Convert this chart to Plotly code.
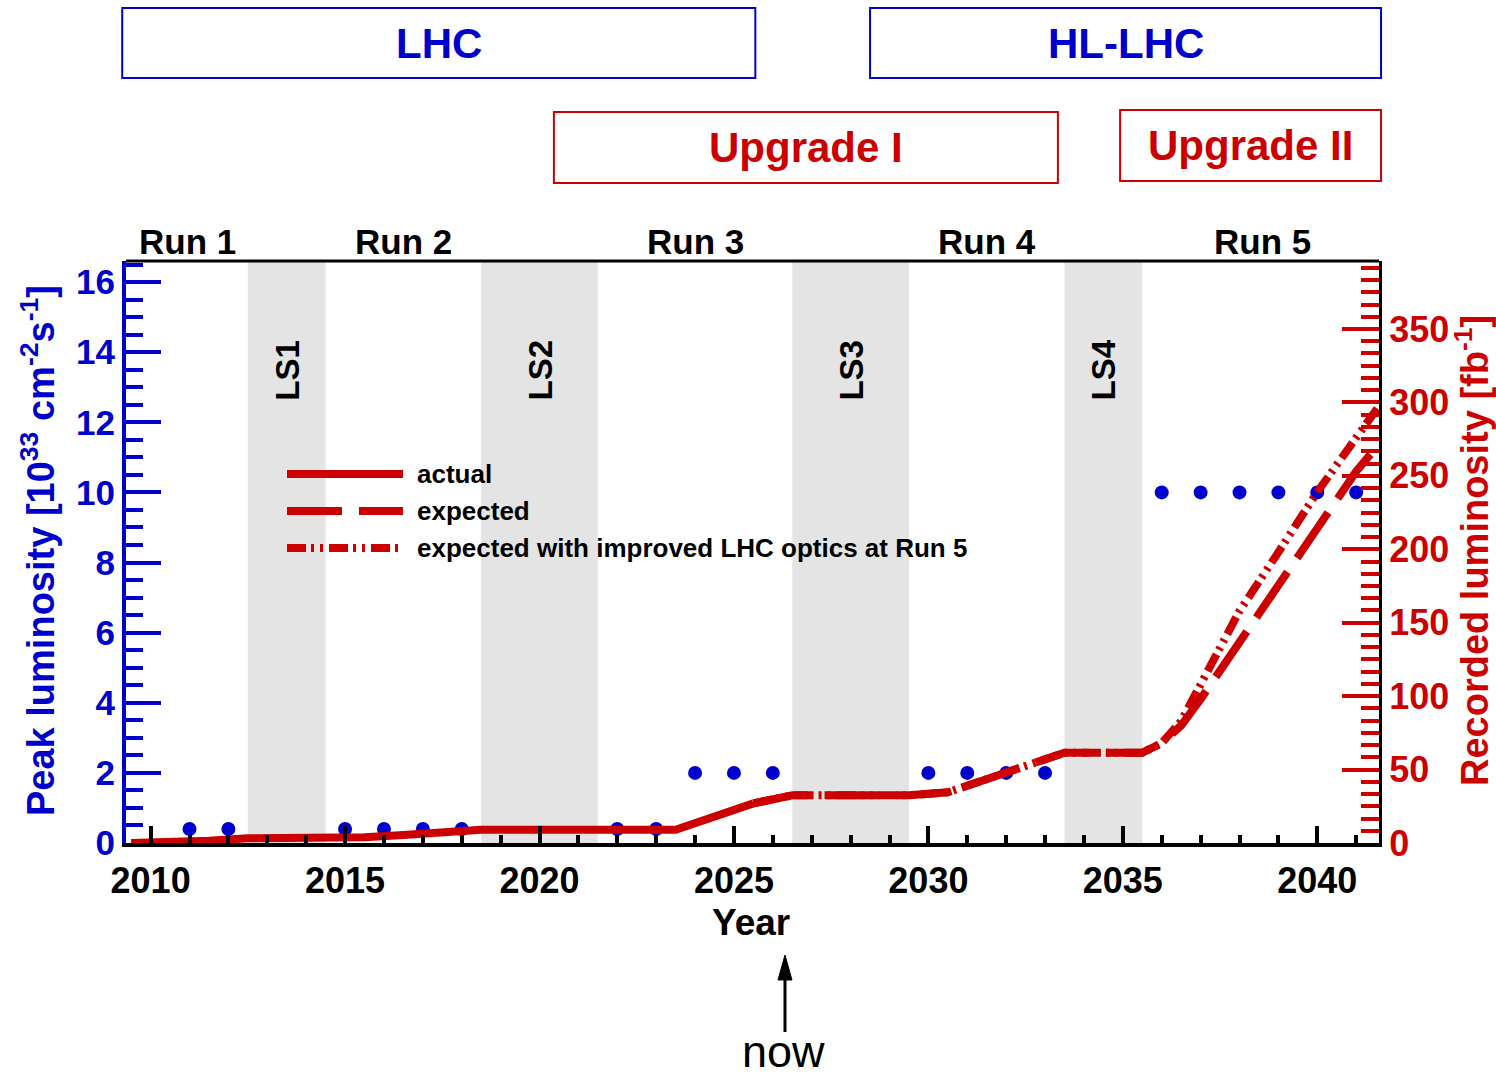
import plotly.graph_objects as go

# ---------------- data ----------------
# Long shutdowns (start / end, in years)
shutdown_names = ["LS1", "LS2", "LS3", "LS4"]
shutdown_start = [2012.5, 2018.5, 2026.5, 2033.5]
shutdown_end = [2014.5, 2021.5, 2029.5, 2035.5]

# Run labels above the frame
run_names = ["Run 1", "Run 2", "Run 3", "Run 4", "Run 5"]
run_centers = [2010.95, 2016.5, 2024.0, 2031.5, 2038.6]

# Peak instantaneous luminosity [10^33 cm^-2 s^-1]
peak_years = [2011, 2012, 2015, 2016, 2017, 2018, 2022, 2023,
              2024, 2025, 2026, 2030, 2031, 2032, 2033,
              2036, 2037, 2038, 2039, 2040, 2041]
peak_lumi = [0.4, 0.4, 0.4, 0.4, 0.4, 0.4, 0.4, 0.4,
             2, 2, 2, 2, 2, 2, 2,
             10, 10, 10, 10, 10, 10]

# Integrated recorded luminosity [fb^-1]
actual_years = [2009.5, 2010.5, 2011.5, 2012.5, 2014.5, 2015.5, 2016.5,
                2017.5, 2018.5, 2023.5, 2025.5]
actual_lumi = [0.0, 0.5, 1.5, 3.2, 3.2, 4.0, 5.5, 7.2, 9.0, 9.0, 27.0]

expected_years = [2025.5, 2026.5, 2029.5, 2030.5, 2033.5, 2035.5, 2036.0,
                  2036.5, 2037.0, 2038.0, 2039.0, 2040.0, 2041.0, 2041.6]
expected_lumi = [27.0, 32.5, 32.5, 34.5, 61.5, 61.5, 68.0,
                 80.0, 98.0, 137.0, 177.0, 216.0, 253.0, 272.0]

improved_years = [2025.5, 2026.5, 2029.5, 2030.5, 2033.5, 2035.5, 2036.0,
                  2036.5, 2037.0, 2038.0, 2039.0, 2040.0, 2041.0, 2041.6]
improved_lumi = [27.0, 32.5, 32.5, 34.5, 61.5, 61.5, 68.0,
                 83.0, 108.0, 158.0, 198.0, 239.0, 276.0, 298.0]

# Machine / detector phases drawn as boxes above the plot
phase_names = ["LHC", "HL-LHC", "Upgrade I", "Upgrade II"]
phase_start = [2009.27, 2028.5, 2020.37, 2034.93]
phase_end = [2025.55, 2041.64, 2033.33, 2041.64]

legend_names = ["actual", "expected", "expected with improved LHC optics at Run 5"]

# ---------------- styling ----------------
FONT = "Liberation Sans, Arial, Helvetica, sans-serif"
BLUE = "#0000cc"
RED = "#cc0000"
GREY = "#e4e4e4"
LINE_W = 8
DASH_EXP = "55px,17px"
DASH_IMP = "19px,5px,3px,6px,3px,6px"

W, H = 1496, 1078
ML, MR, MT, MB = 126, 117, 261, 235
PW, PH = W - ML - MR, H - MT - MB
XR = [2009.367, 2041.587]
YR = [0, 16.6]
Y2R = [0, 396.3]


def px(xp):
    """pixel column -> paper x"""
    return (xp - ML) / PW


def py(yp):
    """pixel row -> paper y"""
    return (H - MB - yp) / PH


def yr2paper(x):
    return (x - XR[0]) / (XR[1] - XR[0])


def label(x, y, text, size, color, xref="paper", angle=0, xanchor="center"):
    return dict(x=x, y=y, xref=xref, yref="paper", text=text, textangle=angle,
                xanchor=xanchor, yanchor="middle", showarrow=False,
                font=dict(family=FONT, size=size, color=color))


fig = go.Figure()

# recorded luminosity curves (right axis)
fig.add_trace(go.Scatter(x=improved_years, y=improved_lumi, yaxis="y2", mode="lines",
                         line=dict(color=RED, width=LINE_W, dash=DASH_IMP),
                         showlegend=False, hoverinfo="skip"))
fig.add_trace(go.Scatter(x=expected_years, y=expected_lumi, yaxis="y2", mode="lines",
                         line=dict(color=RED, width=LINE_W, dash=DASH_EXP),
                         showlegend=False, hoverinfo="skip"))
fig.add_trace(go.Scatter(x=actual_years, y=actual_lumi, yaxis="y2", mode="lines",
                         line=dict(color=RED, width=LINE_W),
                         showlegend=False, hoverinfo="skip"))

# peak luminosity points (left axis)
fig.add_trace(go.Scatter(x=peak_years, y=peak_lumi, yaxis="y", mode="markers",
                         marker=dict(color=BLUE, size=14, line=dict(width=0)),
                         showlegend=False, hoverinfo="skip"))

shapes = []
annotations = []

# shutdown bands
for name, s, e in zip(shutdown_names, shutdown_start, shutdown_end):
    shapes.append(dict(type="rect", xref="x", yref="paper", x0=s, x1=e, y0=0, y1=1,
                       fillcolor=GREY, line=dict(width=0), layer="below"))
    annotations.append(label((s + e) / 2, py(370), "<b>%s</b>" % name, 33, "black",
                             xref="x", angle=-90))

# run labels
for name, c in zip(run_names, run_centers):
    annotations.append(label(c, py(242), "<b>%s</b>" % name, 35, "black", xref="x"))

# top frame line
shapes.append(dict(type="line", xref="paper", yref="paper", x0=0, x1=1, y0=1, y1=1,
                   line=dict(color="black", width=3)))

# phase boxes
phase_rows = {"LHC": (8, 78), "HL-LHC": (8, 78), "Upgrade I": (112, 183), "Upgrade II": (110, 181)}
for name, s, e in zip(phase_names, phase_start, phase_end):
    col = BLUE if "LHC" in name else RED
    top, bot = phase_rows[name]
    x0, x1 = yr2paper(s), yr2paper(e)
    shapes.append(dict(type="rect", xref="paper", yref="paper", x0=x0, x1=x1,
                       y0=py(bot), y1=py(top), line=dict(color=col, width=2),
                       fillcolor="rgba(0,0,0,0)"))
    annotations.append(label((x0 + x1) / 2, py((top + bot) / 2), "<b>%s</b>" % name, 42, col))

# legend (drawn by hand to get long line samples)
legend_dash = ["solid", DASH_EXP, DASH_IMP]
for i, (name, dash) in enumerate(zip(legend_names, legend_dash)):
    yy = py(474 + 37 * i)
    shapes.append(dict(type="line", xref="paper", yref="paper", x0=px(287), x1=px(403),
                       y0=yy, y1=yy, line=dict(color=RED, width=LINE_W, dash=dash)))
    annotations.append(label(px(415), yy, "<b>%s</b>" % name, 26, "black", xanchor="left"))

# axis titles
annotations.append(label(px(38), py(551),
                         "<b>Peak luminosity [10<sup>33</sup> cm<sup>-2</sup>s<sup>-1</sup>]</b>",
                         38, BLUE, angle=-90))
annotations.append(label(px(1472), py(551), "<b>Recorded luminosity [fb<sup>-1</sup>]</b>",
                         38, RED, angle=-90))
annotations.append(label(px(751), py(922), "<b>Year</b>", 37, "black"))

# "now" marker below the axis
now_x = px(785)
shapes.append(dict(type="line", xref="paper", yref="paper", x0=now_x, x1=now_x,
                   y0=py(1032), y1=py(975), line=dict(color="black", width=3)))
shapes.append(dict(type="path", xref="paper", yref="paper",
                   path="M %f,%f L %f,%f L %f,%f Z" % (px(778), py(980), px(785), py(955),
                                                       px(792), py(980)),
                   fillcolor="black", line=dict(color="black", width=1)))
annotations.append(label(px(783), py(1051), "now", 45, "black"))

fig.update_layout(
    width=W, height=H,
    margin=dict(l=ML, r=MR, t=MT, b=MB, autoexpand=False),
    paper_bgcolor="white", plot_bgcolor="white",
    showlegend=False,
    shapes=shapes, annotations=annotations,
    xaxis=dict(range=XR, tickmode="linear", tick0=2010, dtick=5,
               ticks="inside", ticklen=17, tickwidth=4, tickcolor="black",
               minor=dict(ticks="inside", tick0=2010, dtick=1, ticklen=8, tickwidth=4,
                          tickcolor="black"),
               showline=True, linecolor="black", linewidth=4,
               showgrid=False, zeroline=False, ticklabelstandoff=3,
               tickfont=dict(family=FONT, size=36, color="black", weight="bold")),
    yaxis=dict(range=YR, tickmode="linear", tick0=0, dtick=2,
               ticks="inside", ticklen=35, tickwidth=4, tickcolor=BLUE,
               minor=dict(ticks="inside", tick0=0, dtick=0.5, ticklen=17, tickwidth=4,
                          tickcolor=BLUE),
               showline=True, linecolor=BLUE, linewidth=4,
               showgrid=False, zeroline=False, ticklabelstandoff=0,
               tickfont=dict(family=FONT, size=35, color=BLUE, weight="bold")),
    yaxis2=dict(range=Y2R, overlaying="y", side="right", tickmode="linear", tick0=0, dtick=50,
                ticks="inside", ticklen=37, tickwidth=4, tickcolor=RED,
                minor=dict(ticks="inside", tick0=0, dtick=50 / 6, ticklen=18, tickwidth=4,
                           tickcolor=RED),
                showline=True, linecolor="black", linewidth=3,
                showgrid=False, zeroline=False, ticklabelstandoff=0,
                tickfont=dict(family=FONT, size=36, color=RED, weight="bold")),
)

fig.write_html("out.html")
